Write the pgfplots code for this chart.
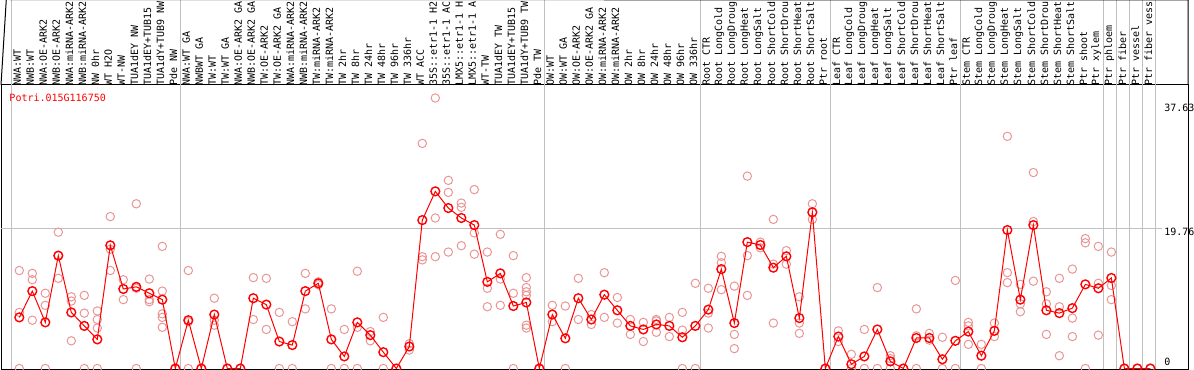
\documentclass[border=0pt]{standalone}
\usepackage{fontspec}
\setmainfont{DejaVu Sans Mono}
\usepackage{pgfplots}
\usepackage{pgfplotstable}
\pgfplotsset{compat=1.18}
\definecolor{gridgray}{RGB}{192,192,192}
\definecolor{repred}{RGB}{234,150,150}
\newcommand{\lab}{\fontsize{10bp}{12bp}\selectfont}

\pgfplotstableread{
x y
1 7.2
2 10.9
3 6.5
4 15.9
5 7.9
6 6.0
7 4.1
8 17.35
9 11.2
10 11.5
11 10.6
12 9.7
13 0
14 6.8
15 0
16 7.6
17 0
18 0
19 9.9
20 9.0
21 3.8
22 3.3
23 10.9
24 12.0
25 4.1
26 1.7
27 6.5
28 4.7
29 2.3
30 0
31 3.1
32 20.9
33 24.95
34 22.6
35 21.2
36 20.2
37 12.2
38 13.4
39 8.8
40 9.3
41 0
42 7.6
43 4.25
44 9.9
45 6.9
46 10.4
47 8.2
48 6.0
49 5.5
50 6.2
51 6.0
52 4.4
53 6.0
54 8.3
55 14.0
56 6.4
57 17.8
58 17.4
59 14.2
60 15.8
61 7.1
62 22.0
63 0
64 4.5
65 0.6
66 1.7
67 5.5
68 1.0
69 0
70 4.3
71 4.3
72 1.3
73 3.9
74 5.2
75 1.8
76 5.3
77 19.5
78 9.7
79 20.2
80 8.2
81 7.8
82 8.5
83 11.85
84 11.3
85 12.75
86 0
87 0
88 0
}\means

\pgfplotstableread{
x y
1 13.8
1 7.9
1 0
2 13.4
2 12.5
2 6.8
3 10.6
3 8.9
3 0
4 19.2
4 12.7
4 15.9
5 10.1
5 9.5
5 3.9
6 10.3
6 7.8
6 0
7 8.1
7 6.9
7 5.7
7 0
8 21.4
8 13.8
8 16.8
9 12.5
9 9.7
10 23.2
10 0
10 11.3
11 12.6
11 9.7
11 9.4
12 17.2
12 10.9
12 7.7
12 7.2
12 5.8
13 0
14 13.8
14 0
14 6.6
15 0
16 9.9
16 6.8
16 6.1
17 0
18 0
19 12.8
19 6.9
20 12.7
20 5.5
21 7.9
21 0
22 6.6
22 0
23 13.4
23 8.4
24 12.2
24 11.8
25 8.4
25 0
26 5.5
26 0
27 13.7
27 5.8
27 0
28 5.2
28 3.9
29 7.2
29 0
30 0
31 3.5
31 2.6
32 31.7
32 15.75
32 15.3
33 38.1
33 21.2
33 15.75
34 26.5
34 24.8
34 16.4
35 23.3
35 22.7
35 17.3
36 25.2
36 19.1
36 16.1
37 16.4
37 11.3
37 8.7
38 18.9
38 12.6
38 8.9
39 15.9
39 10.6
39 0
40 12.8
40 11.4
40 10.8
40 10.3
40 6.1
40 5.7
41 0
42 8.9
42 6.6
43 8.8
43 0
44 12.7
44 6.9
45 7.6
45 6.2
46 13.5
46 7.2
47 10.0
47 6.4
48 6.9
48 4.8
49 6.5
49 3.8
50 6.9
50 6.7
50 5.1
51 7.2
51 4.5
52 7.9
52 5.4
52 0
53 12.0
53 0
54 11.3
54 7.8
54 5.7
55 15.8
55 14.9
55 11.1
56 11.6
56 4.8
56 2.8
57 27.1
57 15.9
57 10.3
58 17.8
58 17.0
59 21.0
59 14.7
59 6.4
60 16.6
60 14.7
61 10.1
61 6.4
61 4.95
62 23.2
62 21.0
63 0
64 5.3
64 3.8
65 2.0
65 0
66 5.5
66 0
67 11.4
67 0
68 1.8
68 1.4
68 0
69 0
70 8.4
70 4.6
70 0
71 4.95
71 4.0
72 4.4
72 0
73 12.4
73 0
74 6.5
74 6.0
74 3.4
75 3.4
75 0
76 6.4
76 4.5
77 32.7
77 13.5
77 12.1
78 11.85
78 9.1
78 8.0
79 27.6
79 20.7
79 12.3
80 10.8
80 9.1
80 4.8
81 12.7
81 8.7
81 1.8
82 14.0
82 7.1
82 4.5
83 18.3
83 17.7
83 0
84 17.2
84 12.0
84 4.7
85 16.4
85 11.7
85 9.7
86 0
87 0
88 0
}\reps

\begin{document}
\begin{tikzpicture}
\begin{axis}[
  at={(0,0)}, anchor=south west,
  scale only axis,
  width=1187bp, height=284bp,
  xmin=-0.408, xmax=90.9,
  ymin=-0.07, ymax=39.93,
  clip mode=individual,
  axis line style={black, line width=1bp},
  ytick=\empty,
  xtick={1,...,88},
  major tick length=0pt,
  xticklabel pos=upper,
  xticklabels={{NWA:WT},{NWB:WT},{NWA:OE-ARK2},{NWB:OE-ARK2},{NWA:miRNA-ARK2},{NWB:miRNA-ARK2},{NW 0hr},{WT H2O},{WT-NW},{TUA1dEY NW},{TUA1dEY+TUB15},{TUA1dY+TUB9 NW},{Pde NW},{NWA:WT GA},{NWBWT GA},{TW:WT},{TW:WT GA},{NWA:OE-ARK2 GA},{NWB:OE-ARK2 GA},{TW:OE-ARK2},{TW:OE-ARK2 GA},{NWA:miRNA-ARK2},{NWB:miRNA-ARK2},{TW:miRNA-ARK2},{TW:miRNA-ARK2},{TW 2hr},{TW 8hr},{TW 24hr},{TW 48hr},{TW 96hr},{TW 336hr},{WT ACC},{35S::etr1-1 H2},{35S::etr1-1 AC},{LMX5::etr1-1 H},{LMX5::etr1-1 A},{WT-TW},{TUA1dEY TW},{TUA1dEY+TUB15},{TUA1dY+TUB9 TW},{Pde TW},{OW:WT},{OW:WT GA},{OW:OE-ARK2},{OW:OE-ARK2 GA},{OW:miRNA-ARK2},{OW:miRNA-ARK2},{OW 2hr},{OW 8hr},{OW 24hr},{OW 48hr},{OW 96hr},{OW 336hr},{Root CTR},{Root LongCold},{Root LongDroug},{Root LongHeat},{Root LongSalt},{Root ShortCold},{Root ShortDrou},{Root ShortHeat},{Root ShortSalt},{Ptr root},{Leaf CTR},{Leaf LongCold},{Leaf LongDroug},{Leaf LongHeat},{Leaf LongSalt},{Leaf ShortCold},{Leaf ShortDrou},{Leaf ShortHeat},{Leaf ShortSalt},{Ptr leaf},{Stem CTR},{Stem LongCold},{Stem LongDroug},{Stem LongHeat},{Stem LongSalt},{Stem ShortCold},{Stem ShortDrou},{Stem ShortHeat},{Stem ShortSalt},{Ptr shoot},{Ptr xylem},{Ptr phloem},{Ptr fiber},{Ptr vessel},{Ptr fiber vess}},
  xticklabel style={rotate=90, anchor=west, font=\lab, inner sep=0pt, xshift=-1bp, yshift=2bp},
]
\pgfplotsinvokeforeach{0.385,13.385,41.385,53.385,63.385,73.385,84.385,85.385,86.385,87.385,88.385}{
  \draw[gridgray, line width=1bp] (axis cs:#1,-0.07) -- ([yshift=85bp]axis cs:#1,39.93);
}
\draw[gridgray, line width=1bp] (axis cs:-0.408,19.76) -- (axis cs:88.9,19.76);
\draw[black, line width=1bp] (rel axis cs:0,1) -- ++(0,85bp) -- ([yshift=85bp]rel axis cs:1,1) -- (rel axis cs:1,1);

\addplot[only marks, mark=o, mark size=4.2bp, mark options={repred, line width=1bp}] table[x=x, y=y] {\reps};
\addplot[red, line width=1bp, mark=o, mark size=4.4bp, mark options={red, line width=1.4bp}] table[x=x, y=y] {\means};

\node[anchor=west, inner sep=0pt, text=red, font=\lab] at ([xshift=8.3bp, yshift=-12.3bp]rel axis cs:0,1) {Potri.015G116750};
\node[anchor=west, inner sep=0pt, font=\lab] at ([xshift=-24bp, yshift=-22.7bp]rel axis cs:1,1) {37.63};
\node[anchor=west, inner sep=0pt, font=\lab] at ([xshift=-24bp, yshift=136.7bp]rel axis cs:1,0) {19.76};
\node[anchor=west, inner sep=0pt, font=\lab] at ([xshift=-24bp, yshift=7.3bp]rel axis cs:1,0) {0};
\end{axis}
\pgfresetboundingbox
\useasboundingbox (-1bp,-1bp) rectangle (1193bp,369bp);
\end{tikzpicture}
\end{document}
